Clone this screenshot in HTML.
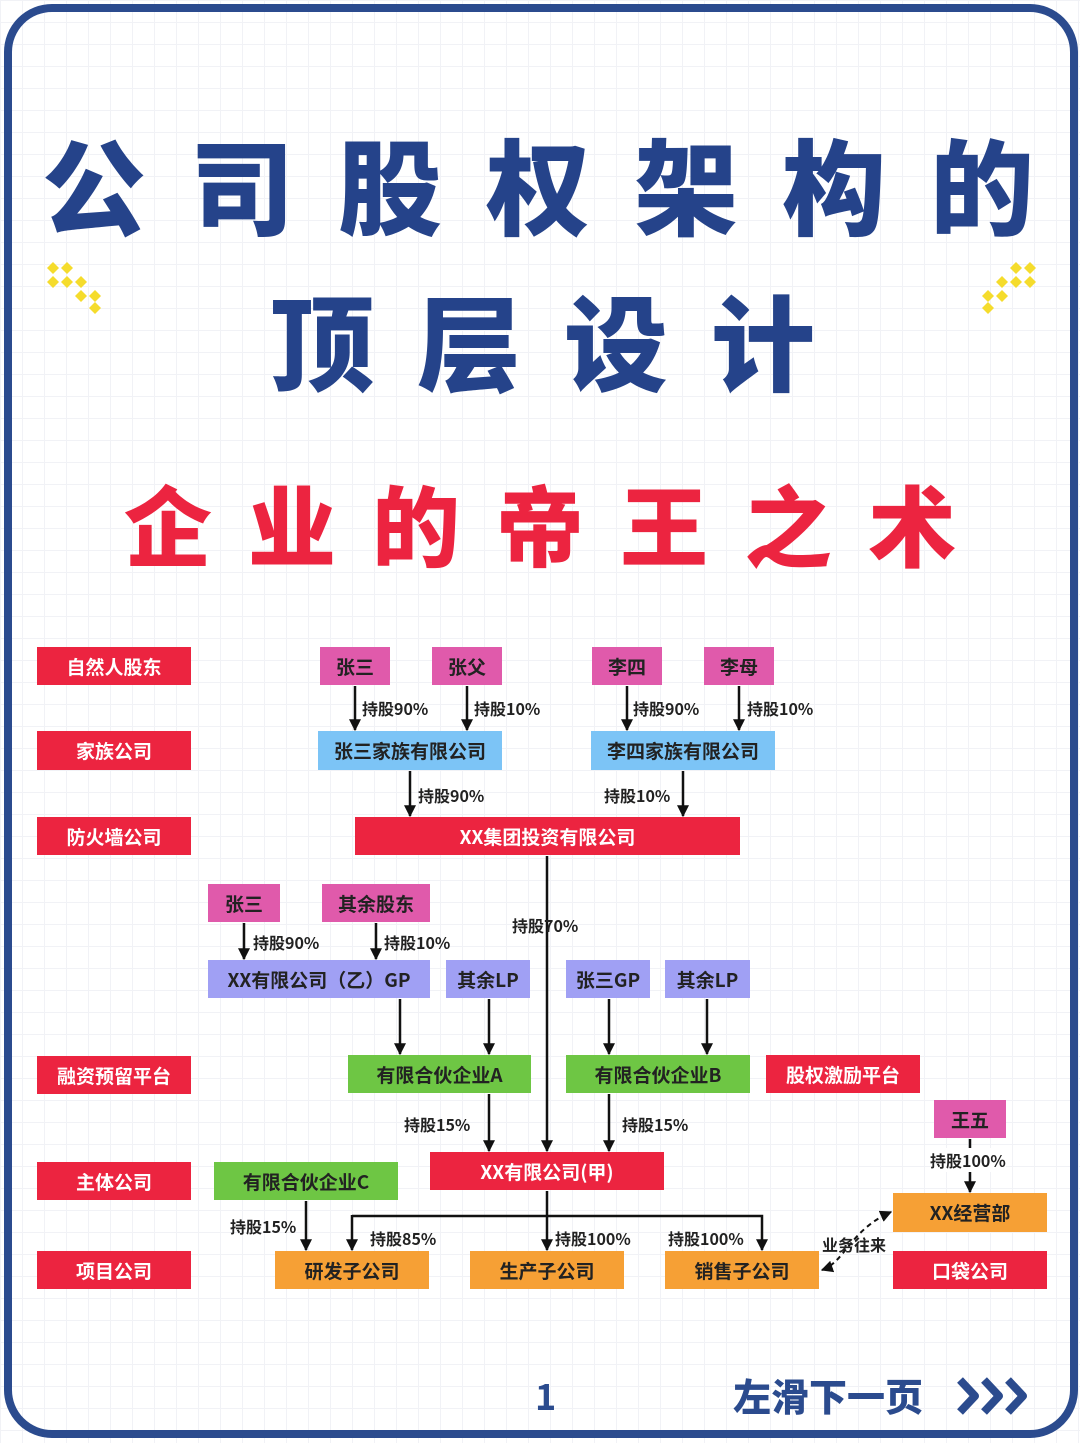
<!DOCTYPE html>
<html><head><meta charset="utf-8"><style>
html,body{margin:0;padding:0}
body{width:1080px;height:1443px;position:relative;overflow:hidden;background:#fff;font-family:"Liberation Sans","Noto Sans CJK SC",sans-serif;
background-image:linear-gradient(#f1f2f6 1px,transparent 1px),linear-gradient(90deg,#f1f2f6 1px,transparent 1px);background-size:22px 22px}
.frame{position:absolute;left:4px;top:4px;width:1058px;height:1418px;border:8px solid #2b4b8e;border-radius:48px}
.b{position:absolute;display:flex;align-items:center;justify-content:center;font-weight:700;font-size:19px;color:#222;white-space:nowrap;font-family:"Noto Sans CJK SC",sans-serif}
.r{background:#ec2440;color:#fff}.p{background:#e05aab}.c{background:#7cc4f6}.v{background:#a0a0f4}.g{background:#6ec644}.o{background:#f6a035}
.t{position:absolute;font-weight:700;font-size:16px;color:#222;white-space:nowrap;font-family:"Noto Sans CJK SC",sans-serif}
.h{position:absolute;font-family:"Noto Sans CJK SC",sans-serif;font-weight:900;white-space:nowrap}
</style></head><body>
<div class="frame"></div>
<div class="h" style="left:42px;top:112px;font-size:104px;color:#25438a;letter-spacing:44px;line-height:140px">公司股权架构的</div>
<div class="h" style="left:270px;top:268px;font-size:104px;color:#25438a;letter-spacing:43px;line-height:140px">顶层设计</div>
<div class="h" style="left:124px;top:468px;font-size:88px;color:#ec2440;letter-spacing:36px;line-height:110px">企业的帝王之术</div>
<svg style="position:absolute;left:45px;top:262px" width="90" height="60"><g fill="#f5dc2c"><path d="M8 0l6 6-6 6-6-6z"/><path d="M22 0l6 6-6 6-6-6z"/><path d="M8 14l6 6-6 6-6-6z"/><path d="M22 14l6 6-6 6-6-6z"/><path d="M36 14l6 6-6 6-6-6z"/><path d="M36 28l6 6-6 6-6-6z"/><path d="M50 28l6 6-6 6-6-6z"/><path d="M50 40l6 6-6 6-6-6z"/></g></svg>
<svg style="position:absolute;left:950px;top:262px" width="90" height="60"><g fill="#f5dc2c"><path d="M66 0l6 6-6 6-6-6z"/><path d="M80 0l6 6-6 6-6-6z"/><path d="M66 14l6 6-6 6-6-6z"/><path d="M80 14l6 6-6 6-6-6z"/><path d="M52 14l6 6-6 6-6-6z"/><path d="M52 28l6 6-6 6-6-6z"/><path d="M38 28l6 6-6 6-6-6z"/><path d="M38 40l6 6-6 6-6-6z"/></g></svg>

<svg style="position:absolute;left:0;top:0" width="1080" height="1443">
<defs>
<marker id="m" viewBox="0 0 10 10" refX="9" refY="5" markerWidth="12" markerHeight="12" orient="auto-start-reverse" markerUnits="userSpaceOnUse"><path d="M0 0L10 5L0 10z" fill="#111"/></marker></defs>
<g stroke="#111" stroke-width="2.5" fill="none" marker-end="url(#m)">
<line x1="355" y1="686" x2="355" y2="730"/><line x1="467" y1="686" x2="467" y2="730"/>
<line x1="627" y1="686" x2="627" y2="730"/><line x1="739" y1="686" x2="739" y2="730"/>
<line x1="410" y1="771" x2="410" y2="816"/><line x1="683" y1="771" x2="683" y2="816"/>
<line x1="547" y1="856" x2="547" y2="1151"/>
<line x1="244" y1="923" x2="244" y2="959"/><line x1="376" y1="923" x2="376" y2="959"/>
<line x1="400" y1="999" x2="400" y2="1054"/><line x1="489" y1="999" x2="489" y2="1054"/>
<line x1="609" y1="999" x2="609" y2="1054"/><line x1="707" y1="999" x2="707" y2="1054"/>
<line x1="489" y1="1094" x2="489" y2="1151"/><line x1="609" y1="1094" x2="609" y2="1151"/>
<line x1="970" y1="1139" x2="970" y2="1192"/>
<line x1="306" y1="1201" x2="306" y2="1250"/>
<line x1="547" y1="1191" x2="547" y2="1250"/>
<path d="M352 1216H762V1250"/>
<line x1="352" y1="1215" x2="352" y2="1250"/>
</g>
<path d="M822 1270C845 1262 850 1230 891 1212" stroke="#111" stroke-width="2" stroke-dasharray="5,4" fill="none" marker-end="url(#m)" marker-start="url(#m)"/>
</svg>

<div class="b r" style="left:37px;top:647px;width:154px;height:38px">自然人股东</div>
<div class="b r" style="left:37px;top:731px;width:154px;height:39px">家族公司</div>
<div class="b r" style="left:37px;top:817px;width:154px;height:38px">防火墙公司</div>
<div class="b r" style="left:37px;top:1056px;width:154px;height:38px">融资预留平台</div>
<div class="b r" style="left:37px;top:1162px;width:154px;height:38px">主体公司</div>
<div class="b r" style="left:37px;top:1251px;width:154px;height:38px">项目公司</div>

<div class="b p" style="left:320px;top:647px;width:70px;height:38px">张三</div>
<div class="b p" style="left:432px;top:647px;width:70px;height:38px">张父</div>
<div class="b p" style="left:592px;top:647px;width:70px;height:38px">李四</div>
<div class="b p" style="left:704px;top:647px;width:70px;height:38px">李母</div>
<div class="t" style="left:362px;top:696px">持股90%</div>
<div class="t" style="left:474px;top:696px">持股10%</div>
<div class="t" style="left:633px;top:696px">持股90%</div>
<div class="t" style="left:747px;top:696px">持股10%</div>
<div class="b c" style="left:318px;top:731px;width:184px;height:39px">张三家族有限公司</div>
<div class="b c" style="left:591px;top:731px;width:184px;height:39px">李四家族有限公司</div>
<div class="t" style="left:418px;top:783px">持股90%</div>
<div class="t" style="left:604px;top:783px">持股10%</div>
<div class="b r" style="left:355px;top:817px;width:385px;height:38px">XX集团投资有限公司</div>

<div class="b p" style="left:208px;top:884px;width:72px;height:38px">张三</div>
<div class="b p" style="left:322px;top:884px;width:108px;height:38px">其余股东</div>
<div class="t" style="left:253px;top:930px">持股90%</div>
<div class="t" style="left:384px;top:930px">持股10%</div>
<div class="t" style="left:512px;top:913px">持股70%</div>
<div class="b v" style="left:208px;top:960px;width:222px;height:38px">XX有限公司（乙）GP</div>
<div class="b v" style="left:446px;top:960px;width:84px;height:38px">其余LP</div>
<div class="b v" style="left:566px;top:960px;width:84px;height:38px">张三GP</div>
<div class="b v" style="left:665px;top:960px;width:85px;height:38px">其余LP</div>
<div class="b g" style="left:348px;top:1055px;width:183px;height:38px">有限合伙企业A</div>
<div class="b g" style="left:566px;top:1055px;width:184px;height:38px">有限合伙企业B</div>
<div class="b r" style="left:766px;top:1055px;width:154px;height:38px">股权激励平台</div>
<div class="t" style="left:404px;top:1112px">持股15%</div>
<div class="t" style="left:622px;top:1112px">持股15%</div>
<div class="b p" style="left:934px;top:1100px;width:72px;height:38px">王五</div>
<div class="t" style="left:930px;top:1148px;background:#fff">持股100%</div>
<div class="b r" style="left:430px;top:1152px;width:234px;height:38px">XX有限公司(甲)</div>
<div class="b g" style="left:214px;top:1162px;width:184px;height:38px">有限合伙企业C</div>
<div class="b o" style="left:893px;top:1193px;width:154px;height:39px">XX经营部</div>
<div class="t" style="left:230px;top:1214px">持股15%</div>
<div class="t" style="left:370px;top:1226px">持股85%</div>
<div class="t" style="left:555px;top:1226px">持股100%</div>
<div class="t" style="left:668px;top:1226px">持股100%</div>
<div class="t" style="left:822px;top:1232px">业务往来</div>
<div class="b o" style="left:275px;top:1251px;width:154px;height:38px">研发子公司</div>
<div class="b o" style="left:470px;top:1251px;width:154px;height:38px">生产子公司</div>
<div class="b o" style="left:665px;top:1251px;width:154px;height:38px">销售子公司</div>
<div class="b r" style="left:893px;top:1251px;width:154px;height:38px">口袋公司</div>

<div class="h" style="left:535px;top:1372px;font-size:36px;color:#2b4b8e;line-height:46px;font-weight:700">1</div>
<div class="h" style="left:733px;top:1370px;font-size:38px;color:#2b4b8e;line-height:50px">左滑下一页</div>
<svg style="position:absolute;left:955px;top:1375px" width="82" height="42"><g fill="none" stroke="#2b4b8e" stroke-width="8" stroke-linejoin="round"><path d="M5 5L20 21L5 37"/><path d="M29 5L44 21L29 37"/><path d="M53 5L68 21L53 37"/></g></svg>
</body></html>
